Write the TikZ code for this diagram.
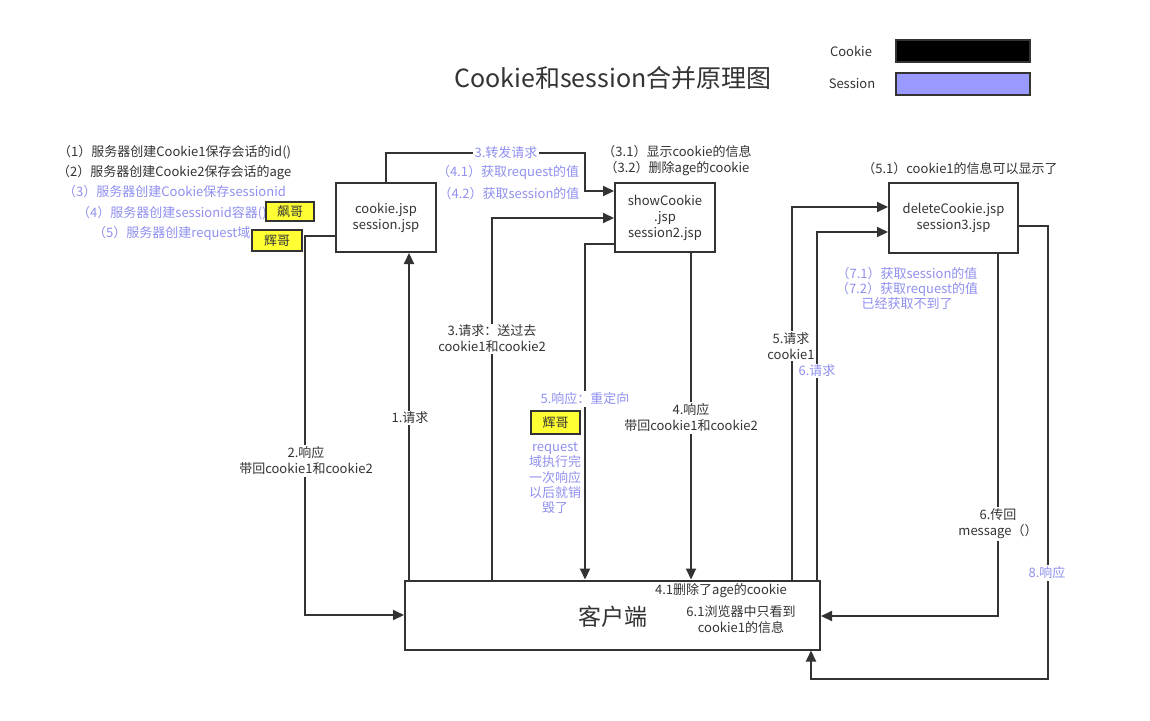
\documentclass[tikz,border=0pt]{standalone}
\usepackage{fontspec}
\setmainfont{Noto Sans CJK SC}
\usetikzlibrary{arrows.meta}
\definecolor{ink}{HTML}{333333}
\definecolor{lblue}{HTML}{9999FF}
\definecolor{tblue}{HTML}{9090F0}
\definecolor{hl}{HTML}{FFFF33}
\begin{document}
\begin{tikzpicture}[x=1pt,y=-1pt,
  every node/.style={font=\fontsize{13}{16}\selectfont, text=ink, inner sep=0pt},
  box/.style={draw=ink, line width=2pt, fill=white, align=center},
  arr/.style={draw=ink, line width=2pt, -{Triangle[length=11pt,width=10pt]}},
  lbl/.style={fill=white, inner sep=1.5pt, align=center},
  blbl/.style={lbl, text=tblue},
  btxt/.style={text=tblue},
  tag/.style={draw=ink, line width=2pt, fill=hl, minimum width=48pt, minimum height=20pt},
  legbox/.style={draw=ink, line width=2pt, minimum width=134pt, minimum height=22pt}]
\fill[white] (0,0) rectangle (1150,720);
\useasboundingbox (0,0) rectangle (1150,720);

% title and legend
\node[font=\fontsize{25}{30}\selectfont] (title) at (613,78) {Cookie和session合并原理图};
\node (lgc) at (851,51) {Cookie};
\node[legbox, fill=black] (lgcbox) at (963,51) {};
\node (lgs) at (852,84) {Session};
\node[legbox, fill=lblue] (lgsbox) at (963,84) {};

% boxes
\node[box, minimum width=100pt, minimum height=69pt] (cookie) at (386,217.5) {cookie.jsp\\session.jsp};
\node[box, minimum width=100pt, minimum height=69pt] (show) at (665,217.5) {showCookie\\.jsp\\session2.jsp};
\node[box, minimum width=129pt, minimum height=70pt] (del) at (953.5,218) {deleteCookie.jsp\\session3.jsp};
\node[box, minimum width=415pt, minimum height=69pt] (client) at (612.5,615) {};
\node[font=\fontsize{23}{28}\selectfont] (kh) at (613,617) {客户端};
\node (c41) at (721,591) {4.1删除了age的cookie};
\node[align=center] (c61) at (741,620) {6.1浏览器中只看到\\cookie1的信息};

% top-left notes
\node[anchor=west] (t1) at (58,152) {（1）服务器创建Cookie1保存会话的id()};
\node[anchor=west] (t2) at (57,173) {（2）服务器创建Cookie2保存会话的age};
\node[anchor=west, btxt] (t3) at (63,192) {（3）服务器创建Cookie保存sessionid};
\node[anchor=west, btxt] (t4) at (77,213) {（4）服务器创建sessionid容器()};
\node[anchor=west, btxt] (t5) at (93,233) {（5）服务器创建request域};
\node[tag, minimum width=48pt, minimum height=19pt] (fg) at (290,211.5) {飙哥};
\node[tag, minimum width=50pt, minimum height=21pt] (hg1) at (277,240.5) {辉哥};

% connectors
\draw[arr] (client.north -| 409,0) -- (cookie.south -| 409,0);
\draw[arr] (cookie.west |- 0,236) -- ++(-30,0) |- (client.west |- 0,615);
\draw[arr] (cookie.north) |- (585,153) |- (show.west |- 0,191);
\draw[arr] (client.north -| 492,0) |- (show.west |- 0,218);
\draw[arr] (show.west |- 0,244) -| (client.north -| 585,0);
\draw[arr] (show.south -| 691,0) -- (client.north -| 691,0);
\draw[arr] (client.north -| 792,0) |- (del.west |- 0,207);
\draw[arr] (client.north -| 817,0) |- (del.west |- 0,232);
\draw[arr] (del.south -| 998,0) |- (client.east |- 0,616);
\draw[arr] (del.east |- 0,226) -| (1048,679) -| (client.south -| 811,0);

% connector labels
\node[lbl] (l1) at (410,418) {1.请求};
\node[lbl] (l2) at (306,461) {2.响应\\带回cookie1和cookie2};
\node[blbl] (l3f) at (506,153) {3.转发请求};
\node[lbl] (l3) at (492,339) {3.请求：送过去\\cookie1和cookie2};
\node[blbl] (l5r) at (585,399) {5.响应：重定向};
\node[lbl] (l4) at (691,418) {4.响应\\带回cookie1和cookie2};
\node[lbl] (l5) at (791,346) {5.请求\\cookie1};
\node[blbl] (l6) at (817,371) {6.请求};
\node[lbl] (l6b) at (998,524) {6.传回\\message（）};
\node[blbl] (l8) at (1047,573) {8.响应};

% notes around showCookie
\node[align=center] (s3) at (677,161) {（3.1）显示cookie的信息\\（3.2）删除age的cookie};
\node[btxt] (s41) at (508,172) {（4.1）获取request的值};
\node[btxt] (s42) at (509,194) {（4.2）获取session的值};
\node[tag, minimum width=49pt, minimum height=23pt] (hg2) at (555.5,422.5) {辉哥};
\node[btxt, align=center, font=\fontsize{13}{15.2}\selectfont] (req) at (555,478) {request\\域执行完\\一次响应\\以后就销\\毁了};

% notes around deleteCookie
\node (s51) at (960,169) {（5.1）cookie1的信息可以显示了};
\node[btxt, align=center, font=\fontsize{13}{15}\selectfont] (s7) at (907,288) {（7.1）获取session的值\\（7.2）获取request的值\\已经获取不到了};
\end{tikzpicture}
\end{document}
